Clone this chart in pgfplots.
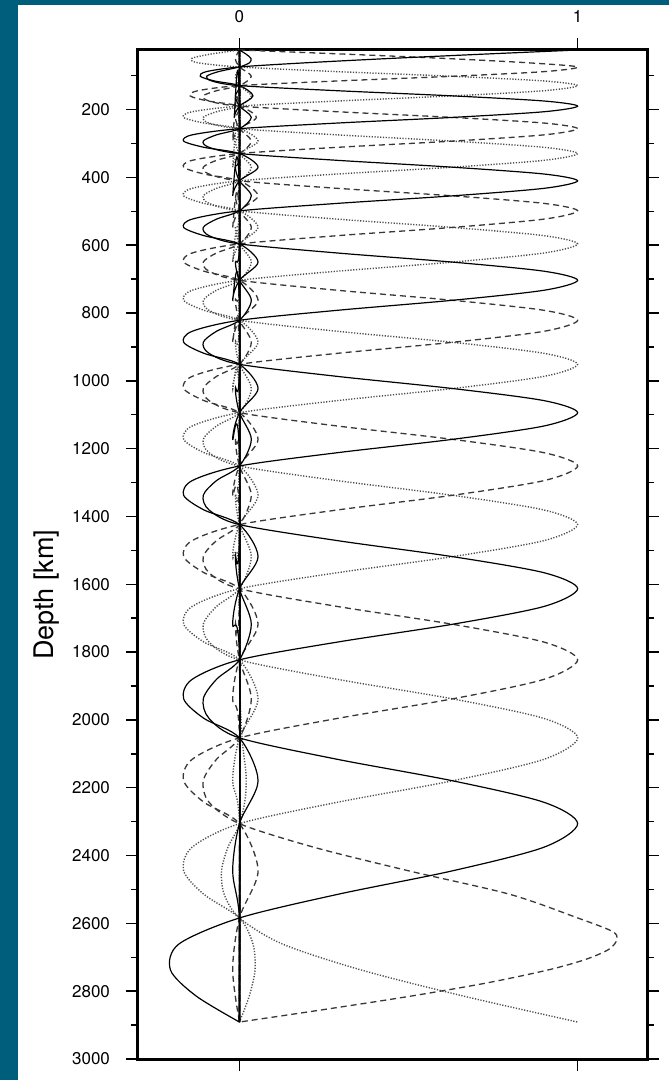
\documentclass[border=0pt]{standalone}
\usepackage{fontspec}
\setmainfont{TeX Gyre Heros}
\usepackage{pgfplots}
\pgfplotsset{compat=1.18}
\definecolor{slideteal}{RGB}{0,94,125}

\pgfplotsset{
  sol/.style={black, line width=0.6pt, smooth},
  das/.style={black!78, line width=0.65pt, smooth, dash pattern=on 3pt off 2pt},
  dot/.style={black!70, line width=0.7pt, smooth, dash pattern=on 0.6pt off 0.8pt},
}

\begin{document}
\begin{tikzpicture}
\path[use as bounding box] (-69pt,-10.5pt) rectangle (265.5pt,529.5pt);
\fill[slideteal] (-69pt,-10.5pt) rectangle (-60pt,529.5pt);
\fill[slideteal] (-69pt,527pt) rectangle (265.5pt,529.5pt);
\begin{axis}[
  scale only axis,
  width=254.5pt, height=504.5pt,
  xmin=-0.3, xmax=1.205,
  ymin=24.4, ymax=3000,
  y dir=reverse,
  xtick={0,1},
  xticklabel pos=upper,
  ytick={200,400,...,3000},
  minor ytick={100,300,...,2900},
  tick align=outside,
  major tick length=6pt,
  minor tick length=3.5pt,
  axis line style={line width=1.5pt},
  every tick/.style={black, line width=0.75pt},
  tick label style={font=\fontsize{8.5}{10}\selectfont},
  /pgf/number format/assume math mode=true,
  /pgf/number format/1000 sep={},
  yticklabel style={xshift=-4.5pt},
  xticklabel style={yshift=4pt},
  ylabel={Depth [km]},
  every axis y label/.style={at={(axis description cs:0,0.46)}, xshift=-45.5pt,
    rotate=90, anchor=center, font=\fontsize{13.5}{15}\selectfont},
]
% dotted splines
\addplot[dot] coordinates {(0,24.4) (-0.088,36.9) (-0.141,49.4) (-0.124,61.9) (0,74.4) (0.29,88.2) (0.63,101.9) (0.9,115.7) (1,129.4) (0.9,144.5) (0.63,159.7) (0.29,174.8) (0,189.9) (-0.14,206.5) (-0.165,223.2) (-0.105,239.8) (0,256.4) (0.055,293.1) (0,329.7) (-0.02,370.0) (0,410.2) (0,2891)};
\addplot[dot] coordinates {(0,24.4) (0,74.4) (-0.012,101.9) (0,129.4) (0.035,159.7) (0,189.9) (-0.068,206.5) (-0.107,223.2) (-0.09,239.8) (0,256.4) (0.29,274.7) (0.63,293.1) (0.9,311.4) (1,329.7) (0.9,349.8) (0.63,370.0) (0.29,390.1) (0,410.2) (-0.14,432.4) (-0.165,454.5) (-0.105,476.7) (0,498.8) (0.055,547.6) (0,596.3) (-0.02,649.9) (0,703.5) (0,2891)};
\addplot[dot] coordinates {(0,24.4) (0,256.4) (-0.012,293.1) (0,329.7) (0.035,370.0) (0,410.2) (-0.068,432.4) (-0.107,454.5) (-0.09,476.7) (0,498.8) (0.29,523.2) (0.63,547.6) (0.9,571.9) (1,596.3) (0.9,623.1) (0.63,649.9) (0.29,676.7) (0,703.5) (-0.14,733.0) (-0.165,762.5) (-0.105,792.0) (0,821.5) (0.055,886.4) (0,951.3) (-0.02,1022.7) (0,1094.0) (0,2891)};
\addplot[dot] coordinates {(0,24.4) (0,498.8) (-0.012,547.6) (0,596.3) (0.035,649.9) (0,703.5) (-0.068,733.0) (-0.107,762.5) (-0.09,792.0) (0,821.5) (0.29,854.0) (0.63,886.4) (0.9,918.9) (1,951.3) (0.9,987.0) (0.63,1022.7) (0.29,1058.3) (0,1094.0) (-0.14,1133.3) (-0.165,1172.6) (-0.105,1211.9) (0,1251.2) (0.055,1337.6) (0,1424.0) (-0.02,1518.5) (0,1613.0) (0,2891)};
\addplot[dot] coordinates {(0,24.4) (0,821.5) (-0.012,886.4) (0,951.3) (0.035,1022.7) (0,1094.0) (-0.068,1133.3) (-0.107,1172.6) (-0.09,1211.9) (0,1251.2) (0.29,1294.4) (0.63,1337.6) (0.9,1380.8) (1,1424.0) (0.9,1471.3) (0.63,1518.5) (0.29,1565.8) (0,1613.0) (-0.14,1665.5) (-0.165,1717.9) (-0.105,1770.4) (0,1822.8) (0.055,1937.9) (0,2053.0) (-0.02,2179.5) (0,2306.0) (0,2891)};
\addplot[dot] coordinates {(0,24.4) (0,1251.2) (-0.012,1337.6) (0,1424.0) (0.035,1518.5) (0,1613.0) (-0.068,1665.5) (-0.107,1717.9) (-0.09,1770.4) (0,1822.8) (0.29,1880.4) (0.63,1937.9) (0.9,1995.5) (1,2053.0) (0.9,2116.3) (0.63,2179.5) (0.29,2242.8) (0,2306.0) (-0.14,2375.5) (-0.165,2445.0) (-0.105,2514.5) (0,2584.0) (0.04,2660.8) (0.046,2737.5) (0.029,2814.3) (0,2891)};
\addplot[dot] coordinates {(0,24.4) (0,1822.8) (0.02,2179.5) (0,2306.0) (-0.034,2375.5) (-0.053,2445.0) (-0.045,2514.5) (0,2584.0) (0.127,2660.8) (0.36,2737.5) (0.662,2814.3) (1,2891)};
% dashed splines
\addplot[das] coordinates {(0,24.4) (0.32,36.9) (0.61,49.4) (0.85,61.9) (1,74.4) (0.9,88.2) (0.63,101.9) (0.29,115.7) (0,129.4) (-0.123,144.5) (-0.146,159.7) (-0.093,174.8) (0,189.9) (0.05,223.2) (0,256.4) (-0.02,293.1) (0,329.7) (0,2891)};
\addplot[das] coordinates {(0,24.4) (-0.012,49.4) (0,74.4) (0.035,101.9) (0,129.4) (-0.068,144.5) (-0.107,159.7) (-0.09,174.8) (0,189.9) (0.29,206.5) (0.63,223.2) (0.9,239.8) (1,256.4) (0.9,274.7) (0.63,293.1) (0.29,311.4) (0,329.7) (-0.14,349.8) (-0.165,370.0) (-0.105,390.1) (0,410.2) (0.055,454.5) (0,498.8) (-0.02,547.6) (0,596.3) (0,2891)};
\addplot[das] coordinates {(0,24.4) (0,189.9) (-0.012,223.2) (0,256.4) (0.035,293.1) (0,329.7) (-0.068,349.8) (-0.107,370.0) (-0.09,390.1) (0,410.2) (0.29,432.4) (0.63,454.5) (0.9,476.7) (1,498.8) (0.9,523.2) (0.63,547.6) (0.29,571.9) (0,596.3) (-0.14,623.1) (-0.165,649.9) (-0.105,676.7) (0,703.5) (0.055,762.5) (0,821.5) (-0.02,886.4) (0,951.3) (0,2891)};
\addplot[das] coordinates {(0,24.4) (0,410.2) (-0.012,454.5) (0,498.8) (0.035,547.6) (0,596.3) (-0.068,623.1) (-0.107,649.9) (-0.09,676.7) (0,703.5) (0.29,733.0) (0.63,762.5) (0.9,792.0) (1,821.5) (0.9,854.0) (0.63,886.4) (0.29,918.9) (0,951.3) (-0.14,987.0) (-0.165,1022.7) (-0.105,1058.3) (0,1094.0) (0.055,1172.6) (0,1251.2) (-0.02,1337.6) (0,1424.0) (0,2891)};
\addplot[das] coordinates {(0,24.4) (0,703.5) (-0.012,762.5) (0,821.5) (0.035,886.4) (0,951.3) (-0.068,987.0) (-0.107,1022.7) (-0.09,1058.3) (0,1094.0) (0.29,1133.3) (0.63,1172.6) (0.9,1211.9) (1,1251.2) (0.9,1294.4) (0.63,1337.6) (0.29,1380.8) (0,1424.0) (-0.14,1471.3) (-0.165,1518.5) (-0.105,1565.8) (0,1613.0) (0.055,1717.9) (0,1822.8) (-0.02,1937.9) (0,2053.0) (0,2891)};
\addplot[das] coordinates {(0,24.4) (0,1094.0) (-0.012,1172.6) (0,1251.2) (0.035,1337.6) (0,1424.0) (-0.068,1471.3) (-0.107,1518.5) (-0.09,1565.8) (0,1613.0) (0.29,1665.5) (0.63,1717.9) (0.9,1770.4) (1,1822.8) (0.9,1880.4) (0.63,1937.9) (0.29,1995.5) (0,2053.0) (-0.14,2116.3) (-0.165,2179.5) (-0.105,2242.8) (0,2306.0) (0.055,2445.0) (0,2584.0) (-0.02,2737.5) (0,2891)};
\addplot[das] coordinates {(0,24.4) (0,1613.0) (-0.012,1717.9) (0,1822.8) (0.035,1937.9) (0,2053.0) (-0.068,2116.3) (-0.107,2179.5) (-0.09,2242.8) (0,2306.0) (0.22,2375.5) (0.5,2445.0) (0.8,2514.5) (1,2584.0) (1.10,2622.4) (1.117,2645.4) (1.093,2676.1) (1.022,2706.8) (0.912,2737.5) (0.73,2775.9) (0.508,2814.3) (0.26,2852.6) (0,2891)};
% solid splines
\addplot[sol] coordinates {(1,24.4) (0.715,36.9) (0.444,49.4) (0.2,61.9) (0,74.4) (-0.098,88.2) (-0.116,101.9) (-0.074,115.7) (0,129.4) (0.04,159.7) (0,189.9) (-0.015,223.2) (0,256.4) (0,2891)};
\addplot[sol] coordinates {(0,24.4) (0.02,36.9) (0.034,49.4) (0.03,61.9) (0,74.4) (-0.062,88.2) (-0.097,101.9) (-0.082,115.7) (0,129.4) (0.29,144.5) (0.63,159.7) (0.9,174.8) (1,189.9) (0.9,206.5) (0.63,223.2) (0.29,239.8) (0,256.4) (-0.14,274.7) (-0.165,293.1) (-0.105,311.4) (0,329.7) (0.055,370.0) (0,410.2) (-0.02,454.5) (0,498.8) (0,2891)};
\addplot[sol] coordinates {(0,24.4) (0,129.4) (-0.012,159.7) (0,189.9) (0.035,223.2) (0,256.4) (-0.068,274.7) (-0.107,293.1) (-0.09,311.4) (0,329.7) (0.29,349.8) (0.63,370.0) (0.9,390.1) (1,410.2) (0.9,432.4) (0.63,454.5) (0.29,476.7) (0,498.8) (-0.14,523.2) (-0.165,547.6) (-0.105,571.9) (0,596.3) (0.055,649.9) (0,703.5) (-0.02,762.5) (0,821.5) (0,2891)};
\addplot[sol] coordinates {(0,24.4) (0,329.7) (-0.012,370.0) (0,410.2) (0.035,454.5) (0,498.8) (-0.068,523.2) (-0.107,547.6) (-0.09,571.9) (0,596.3) (0.29,623.1) (0.63,649.9) (0.9,676.7) (1,703.5) (0.9,733.0) (0.63,762.5) (0.29,792.0) (0,821.5) (-0.14,854.0) (-0.165,886.4) (-0.105,918.9) (0,951.3) (0.055,1022.7) (0,1094.0) (-0.02,1172.6) (0,1251.2) (0,2891)};
\addplot[sol] coordinates {(0,24.4) (0,596.3) (-0.012,649.9) (0,703.5) (0.035,762.5) (0,821.5) (-0.068,854.0) (-0.107,886.4) (-0.09,918.9) (0,951.3) (0.29,987.0) (0.63,1022.7) (0.9,1058.3) (1,1094.0) (0.9,1133.3) (0.63,1172.6) (0.29,1211.9) (0,1251.2) (-0.14,1294.4) (-0.165,1337.6) (-0.105,1380.8) (0,1424.0) (0.055,1518.5) (0,1613.0) (-0.02,1717.9) (0,1822.8) (0,2891)};
\addplot[sol] coordinates {(0,24.4) (0,951.3) (-0.012,1022.7) (0,1094.0) (0.035,1172.6) (0,1251.2) (-0.068,1294.4) (-0.107,1337.6) (-0.09,1380.8) (0,1424.0) (0.29,1471.3) (0.63,1518.5) (0.9,1565.8) (1,1613.0) (0.9,1665.5) (0.63,1717.9) (0.29,1770.4) (0,1822.8) (-0.14,1880.4) (-0.165,1937.9) (-0.105,1995.5) (0,2053.0) (0.055,2179.5) (0,2306.0) (-0.02,2445.0) (0,2584.0) (0,2891)};
\addplot[sol] coordinates {(0,24.4) (0,1424.0) (-0.012,1518.5) (0,1613.0) (0.035,1717.9) (0,1822.8) (-0.068,1880.4) (-0.107,1937.9) (-0.09,1995.5) (0,2053.0) (0.29,2116.3) (0.63,2179.5) (0.9,2242.8) (1,2306.0) (0.9,2375.5) (0.63,2445.0) (0.29,2514.5) (0,2584.0) (-0.179,2660.8) (-0.204,2737.5) (-0.128,2814.3) (0,2891)};
\end{axis}
\end{tikzpicture}
\end{document}
